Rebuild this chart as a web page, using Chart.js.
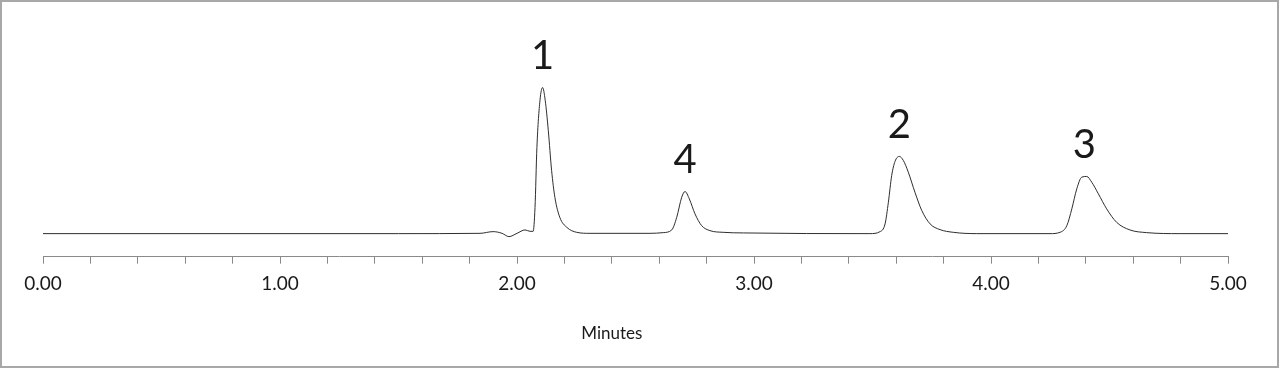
<!DOCTYPE html>
<html>
<head>
<meta charset="utf-8">
<script src="https://cdn.jsdelivr.net/npm/chart.js@4/dist/chart.umd.min.js"></script>
<style>
  html, body { margin: 0; padding: 0; background: #fff; }
  #wrap { position: relative; width: 1280px; height: 369px; }
  #frame {
    position: absolute; left: 0; top: 0; width: 1279px; height: 368px;
    box-sizing: border-box; border: 2px solid #a8a8a8;
  }
  #chart { position: absolute; left: 0; top: 0; }
</style>
</head>
<body>
<div id="wrap">
  <div id="frame"></div>
  <canvas id="chart" width="1280" height="369"></canvas>
</div>
<script>
// retention time (min) and detector signal
const traceTimes = [
  0, 1.5, 1.844, 1.899, 1.937, 1.966, 2.0, 2.034, 2.055, 2.068,
  2.076, 2.084, 2.097, 2.108, 2.119, 2.132, 2.146, 2.160, 2.181, 2.210,
  2.252, 2.308, 2.561, 2.617, 2.653, 2.674, 2.695, 2.709, 2.727, 2.751,
  2.779, 2.814, 2.870, 2.955, 3.489, 3.532, 3.553, 3.567, 3.581, 3.595,
  3.613, 3.630, 3.651, 3.679, 3.708, 3.743, 3.785, 3.841, 3.940, 4.249,
  4.291, 4.320, 4.341, 4.362, 4.383, 4.404, 4.425, 4.453, 4.488, 4.530,
  4.586, 4.657, 4.797, 5.0
];
const traceValues = [
  0, 0, 0.3, 2, 0.3, -3, 0.3, 3.7, 2.3, 2.3,
  26, 86, 133, 145.7, 133, 103, 63, 36, 16, 6.3,
  1.3, 0.3, 0.3, 1, 3.7, 16.3, 36.3, 42, 34.7, 19.7,
  8, 3, 1.3, 0.7, 0, 2, 9.7, 31.3, 58, 72,
  77, 73, 61.3, 41.3, 23, 9.7, 4, 1.3, 0, 0,
  1.3, 8, 24.7, 44.7, 56.3, 57, 51.3, 39.7, 24.7, 11.3,
  3.7, 1, 0, 0
];

// peak numbering
const peakNames = ["1", "4", "2", "3"];
const peakTimes = [2.108, 2.709, 3.613, 4.394];
const peakHeights = [145.7, 42, 77, 57];

const xTitle = "Minutes";

const points = traceTimes.map((t, i) => ({ x: t, y: traceValues[i] }));

const peakLabelPlugin = {
  id: "peakLabels",
  afterDatasetsDraw(chart) {
    const { ctx, scales } = chart;
    ctx.save();
    ctx.fillStyle = "#1a1a1a";
    ctx.font = "40px Lato";
    ctx.textAlign = "center";
    ctx.textBaseline = "middle";
    peakNames.forEach((name, i) => {
      const px = scales.x.getPixelForValue(peakTimes[i]);
      const py = scales.y.getPixelForValue(peakHeights[i]);
      ctx.fillText(name, px, py - 31);
    });
    // axis title sits a bit left of centre in the original
    ctx.font = "17px Lato";
    ctx.fillText(xTitle, scales.x.getPixelForValue(2.4), 334);
    ctx.restore();
  },
};

const ctx = document.getElementById("chart").getContext("2d");
new Chart(ctx, {
  type: "line",
  data: {
    datasets: [
      {
        data: points,
        borderColor: "#2e2e2e",
        borderWidth: 1,
        pointRadius: 0,
        cubicInterpolationMode: "monotone",
        fill: false,
      },
    ],
  },
  options: {
    responsive: false,
    animation: false,
    devicePixelRatio: 1,
    layout: {
      padding: { left: 43, right: 52, top: 20, bottom: 64.5 },
    },
    plugins: {
      legend: { display: false },
      tooltip: { enabled: false },
    },
    scales: {
      x: {
        type: "linear",
        min: 0,
        max: 5,
        border: { display: true, color: "#8a8a8a", width: 1 },
        grid: {
          drawOnChartArea: false,
          drawTicks: true,
          tickLength: 7,
          tickColor: "#8a8a8a",
        },
        ticks: {
          stepSize: 0.2,
          autoSkip: false,
          maxRotation: 0,
          padding: 9,
          color: "#1a1a1a",
          font: { family: "Lato", size: 19 },
          callback: (v) =>
            Math.abs(v - Math.round(v)) < 1e-6 ? Number(v).toFixed(2) : "",
        },
      },
      y: {
        display: false,
        min: -23,
        max: 213,
      },
    },
  },
  plugins: [peakLabelPlugin],
});
</script>
</body>
</html>
